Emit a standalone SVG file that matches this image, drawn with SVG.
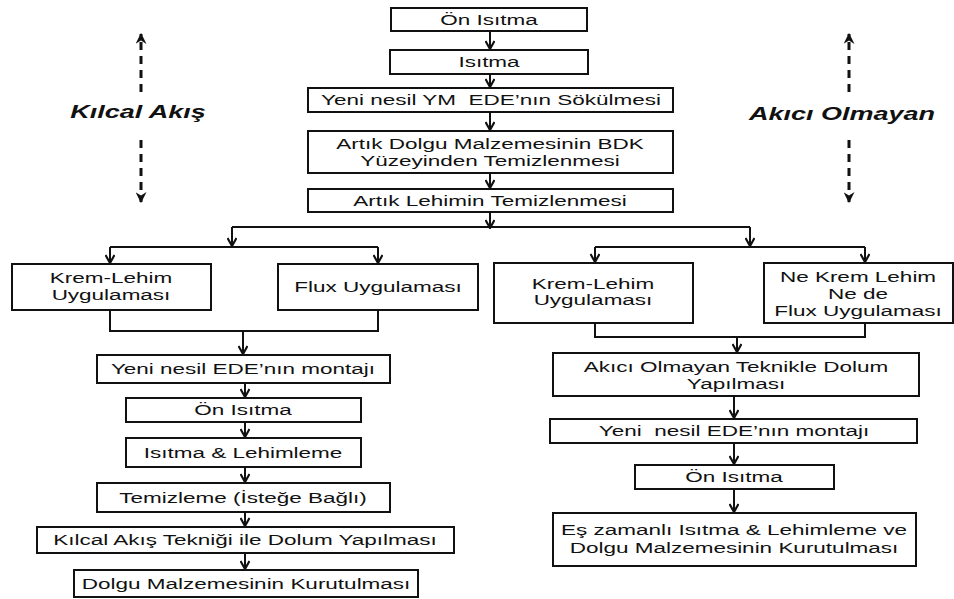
<svg xmlns="http://www.w3.org/2000/svg" width="954" height="599" viewBox="0 0 954 599">
<defs>
<style>
.box{fill:#fff;stroke:#111;stroke-width:2}
.t{font-family:"Liberation Sans",Arial,sans-serif;font-size:15px;fill:#111;text-anchor:middle;white-space:pre}
.lbl{font-family:"Liberation Sans",Arial,sans-serif;font-size:18px;font-weight:bold;font-style:italic;fill:#111;text-anchor:middle}
.c{fill:none;stroke:#111;stroke-width:2}
.ca{fill:none;stroke:#111;stroke-width:2;marker-end:url(#ah)}
.d{fill:none;stroke:#111;stroke-width:3;stroke-dasharray:8 6;marker-end:url(#dh)}
</style>
<marker id="ah" viewBox="0 0 10 10" refX="9" refY="5" markerWidth="10" markerHeight="10" markerUnits="userSpaceOnUse" orient="auto">
<path d="M1,0.5 L9,5 L1,9.5" fill="none" stroke="#111" stroke-width="2.2"/>
</marker>
<marker id="dh" viewBox="0 0 10 10" refX="9" refY="5" markerWidth="11" markerHeight="11" markerUnits="userSpaceOnUse" orient="auto">
<path d="M0,0 L10,5 L0,10 L3,5 z" fill="#111"/>
</marker>
</defs>
<rect width="954" height="599" fill="#fff"/>

<g id="connectors">
<line class="ca" x1="490" y1="31" x2="490" y2="49"/>
<line class="ca" x1="490" y1="74" x2="490" y2="87"/>
<line class="ca" x1="490" y1="112" x2="490" y2="130"/>
<line class="ca" x1="490" y1="173" x2="490" y2="188"/>
<line class="ca" x1="490" y1="212" x2="490" y2="228"/>
<polyline class="c" points="232,227 750,227"/>
<line class="ca" x1="232" y1="227" x2="232" y2="246"/>
<line class="ca" x1="750" y1="227" x2="750" y2="246"/>
<polyline class="c" points="110,247 378,247"/>
<line class="ca" x1="110" y1="247" x2="110" y2="263"/>
<line class="ca" x1="378" y1="247" x2="378" y2="263"/>
<polyline class="c" points="595,247 865,247"/>
<line class="ca" x1="595" y1="247" x2="595" y2="262"/>
<line class="ca" x1="865" y1="247" x2="865" y2="262"/>
<polyline class="c" points="110,310 110,331 378,331 378,310"/>
<line class="ca" x1="243" y1="331" x2="243" y2="354"/>
<line class="ca" x1="245" y1="383" x2="245" y2="397"/>
<line class="ca" x1="245" y1="422" x2="245" y2="437"/>
<line class="ca" x1="245" y1="467" x2="245" y2="482"/>
<line class="ca" x1="245" y1="512" x2="245" y2="526"/>
<line class="ca" x1="245" y1="553" x2="245" y2="569"/>
<polyline class="c" points="595,323 595,337 865,337 865,323"/>
<line class="ca" x1="737" y1="337" x2="737" y2="352"/>
<line class="ca" x1="734" y1="396" x2="734" y2="418"/>
<line class="ca" x1="734" y1="443" x2="734" y2="464"/>
<line class="ca" x1="734" y1="489" x2="734" y2="512"/>
<line class="d" x1="141" y1="92" x2="141" y2="34"/>
<line class="d" x1="141" y1="140" x2="141" y2="202"/>
<line class="d" x1="849" y1="92" x2="849" y2="34"/>
<line class="d" x1="849" y1="140" x2="849" y2="202"/>
</g>

<g id="label-kilcal"><text class="lbl" transform="translate(138,118) scale(1.5,1)">Kılcal Akış</text></g>
<g id="label-akici"><text class="lbl" transform="translate(842,120) scale(1.5,1)">Akıcı Olmayan</text></g>

<g id="n1"><rect class="box" x="391" y="8" width="196" height="23"/><text class="t" transform="translate(489,25) scale(1.5,1)">Ön Isıtma</text></g>
<g id="n2"><rect class="box" x="390" y="50" width="198" height="24"/><text class="t" transform="translate(489,67) scale(1.5,1)">Isıtma</text></g>
<g id="n3"><rect class="box" x="308" y="88" width="365" height="24"/><text class="t" transform="translate(491,105) scale(1.5,1)">Yeni nesil YM  EDE’nın Sökülmesi</text></g>
<g id="n4"><rect class="box" x="308" y="131" width="365" height="42"/><text class="t" transform="translate(490,149) scale(1.5,1)">Artık Dolgu Malzemesinin BDK</text><text class="t" transform="translate(490,166) scale(1.5,1)">Yüzeyinden Temizlenmesi</text></g>
<g id="n5"><rect class="box" x="308" y="189" width="365" height="23"/><text class="t" transform="translate(490,206) scale(1.5,1)">Artık Lehimin Temizlenmesi</text></g>

<g id="l-krem"><rect class="box" x="12" y="264" width="199" height="46"/><text class="t" transform="translate(111,283) scale(1.5,1)">Krem-Lehim</text><text class="t" transform="translate(111,300) scale(1.5,1)">Uygulaması</text></g>
<g id="l-flux"><rect class="box" x="278" y="264" width="200" height="46"/><text class="t" transform="translate(378,292) scale(1.5,1)">Flux Uygulaması</text></g>
<g id="l1"><rect class="box" x="97" y="355" width="293" height="28"/><text class="t" transform="translate(243,374) scale(1.5,1)">Yeni nesil EDE’nın montajı</text></g>
<g id="l2"><rect class="box" x="126" y="398" width="235" height="24"/><text class="t" transform="translate(243,415) scale(1.5,1)">Ön Isıtma</text></g>
<g id="l3"><rect class="box" x="126" y="438" width="235" height="29"/><text class="t" transform="translate(243,458) scale(1.5,1)">Isıtma &amp; Lehimleme</text></g>
<g id="l4"><rect class="box" x="97" y="483" width="293" height="29"/><text class="t" transform="translate(243,503) scale(1.5,1)">Temizleme (İsteğe Bağlı)</text></g>
<g id="l5"><rect class="box" x="37" y="527" width="417" height="26"/><text class="t" transform="translate(245,545) scale(1.5,1)">Kılcal Akış Tekniği ile Dolum Yapılması</text></g>
<g id="l6"><rect class="box" x="74" y="570" width="344" height="27"/><text class="t" transform="translate(246,589) scale(1.5,1)">Dolgu Malzemesinin Kurutulması</text></g>

<g id="r-krem"><rect class="box" x="494" y="263" width="199" height="60"/><text class="t" transform="translate(593,289) scale(1.5,1)">Krem-Lehim</text><text class="t" transform="translate(593,305) scale(1.5,1)">Uygulaması</text></g>
<g id="r-ne"><rect class="box" x="764" y="263" width="189" height="60"/><text class="t" transform="translate(858,282) scale(1.5,1)">Ne Krem Lehim</text><text class="t" transform="translate(858,299) scale(1.5,1)">Ne de</text><text class="t" transform="translate(858,316) scale(1.5,1)">Flux Uygulaması</text></g>
<g id="r1"><rect class="box" x="553" y="353" width="366" height="43"/><text class="t" transform="translate(736,372) scale(1.5,1)">Akıcı Olmayan Teknikle Dolum</text><text class="t" transform="translate(736,389) scale(1.5,1)">Yapılması</text></g>
<g id="r2"><rect class="box" x="550" y="419" width="367" height="24"/><text class="t" transform="translate(734,436) scale(1.5,1)">Yeni  nesil EDE’nın montajı</text></g>
<g id="r3"><rect class="box" x="635" y="465" width="199" height="24"/><text class="t" transform="translate(734,482) scale(1.5,1)">Ön Isıtma</text></g>
<g id="r4"><rect class="box" x="553" y="513" width="363" height="53"/><text class="t" transform="translate(734,535) scale(1.5,1)">Eş zamanlı Isıtma &amp; Lehimleme ve</text><text class="t" transform="translate(734,553) scale(1.5,1)">Dolgu Malzemesinin Kurutulması</text></g>
</svg>
